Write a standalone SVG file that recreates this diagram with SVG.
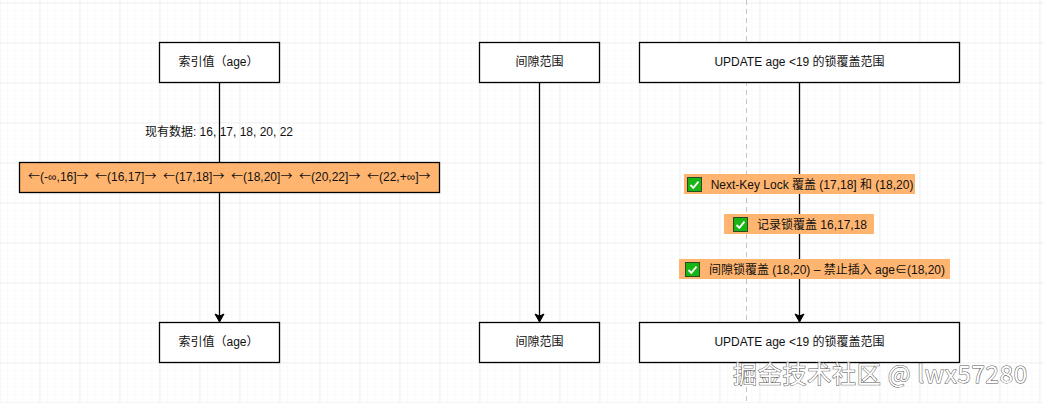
<svg xmlns="http://www.w3.org/2000/svg" width="1043" height="403" viewBox="0 0 1043 403">
<defs>
<pattern id="minor" width="8" height="8" patternUnits="userSpaceOnUse" x="-1" y="2"><path d="M0 0H8M0 0V8" fill="none" stroke="#f8f8f8" stroke-width="1"/></pattern>
<pattern id="major" width="40" height="40" patternUnits="userSpaceOnUse" x="-0.5" y="2.5"><path d="M0 0H40M0 0V40" fill="none" stroke="#e4e4e4" stroke-width="1"/></pattern>
<marker id="arrow" markerWidth="12" markerHeight="12" refX="9" refY="5" orient="auto" markerUnits="userSpaceOnUse"><path d="M1 0.5L9 5L1 9.5L3 5Z" fill="#000" stroke="#000" stroke-width="1"/></marker>
<g id="check"><rect x="0.5" y="0.5" width="14" height="14" fill="#16b512" stroke="#2c4a22"/><path d="M3.5 8L6.3 10.8L11.5 4.6" fill="none" stroke="#fff" stroke-width="1.8"/></g>
</defs>
<style>
text{font-family:"Liberation Sans","Noto Sans CJK SC",sans-serif;font-size:12px;fill:#111;text-anchor:middle}
.r{text-anchor:start}
.a{font-family:"Noto Sans CJK SC",sans-serif}
.box{fill:#fff;stroke:#000;stroke-width:1.3}
.line{fill:none;stroke:#000;stroke-width:1.3}
.tag{fill:#ffb570}
.wm{font-family:"Noto Sans CJK SC","Liberation Sans",sans-serif;font-size:24px;text-anchor:start;letter-spacing:0.75px;fill:#fff;stroke:#555;stroke-width:1;paint-order:stroke}
</style>
<rect width="1043" height="403" fill="#fff"/>
<rect width="1043" height="403" fill="url(#minor)"/>
<rect width="1043" height="403" fill="url(#major)"/>
<line x1="746.5" y1="0" x2="746.5" y2="403" stroke="#c4c4c4" stroke-dasharray="5 4"/>
<g id="connectors">
<line class="line" x1="219.5" y1="82" x2="219.5" y2="322" marker-end="url(#arrow)"/>
<line class="line" x1="539.5" y1="82" x2="539.5" y2="322" marker-end="url(#arrow)"/>
<line class="line" x1="799.5" y1="82" x2="799.5" y2="322" marker-end="url(#arrow)"/>
</g>
<g id="n-age-top"><rect class="box" x="159.5" y="42.5" width="120" height="40"/><text x="218.5" y="66">索引值（age）</text></g>
<g id="n-gap-top"><rect class="box" x="479.5" y="42.5" width="120" height="40"/><text x="539.5" y="66">间隙范围</text></g>
<g id="n-update-top"><rect class="box" x="639.5" y="42.5" width="320" height="40"/><text x="799.5" y="66">UPDATE age &lt;19 的锁覆盖范围</text></g>
<g id="n-data"><text x="219" y="136">现有数据: 16, 17, 18, 20, 22</text></g>
<g id="n-ranges"><rect x="19.5" y="162.5" width="420" height="30" fill="#ffb570" stroke="#000" stroke-width="1.3"/>
<text class="r" x="28" y="181"><tspan class="a">←</tspan>(-∞,16]<tspan class="a">→</tspan></text>
<text class="r" x="95" y="181"><tspan class="a">←</tspan>(16,17]<tspan class="a">→</tspan></text>
<text class="r" x="163" y="181"><tspan class="a">←</tspan>(17,18]<tspan class="a">→</tspan></text>
<text class="r" x="231" y="181"><tspan class="a">←</tspan>(18,20]<tspan class="a">→</tspan></text>
<text class="r" x="299" y="181"><tspan class="a">←</tspan>(20,22]<tspan class="a">→</tspan></text>
<text class="r" x="367" y="181"><tspan class="a">←</tspan>(22,+∞]<tspan class="a">→</tspan></text></g>
<g id="n-lock1"><rect class="tag" x="684" y="174" width="231" height="20"/><use href="#check" x="687" y="177"/><text x="812" y="189">Next-Key Lock 覆盖 (17,18] 和 (18,20)</text></g>
<g id="n-lock2"><rect class="tag" x="724" y="214" width="150" height="20"/><use href="#check" x="733" y="217"/><text x="812" y="229">记录锁覆盖 16,17,18</text></g>
<g id="n-lock3"><rect class="tag" x="679" y="259" width="271" height="20"/><use href="#check" x="685" y="262"/><text x="827" y="274">间隙锁覆盖 (18,20) – 禁止插入 age∈(18,20)</text></g>
<g id="n-age-bot"><rect class="box" x="159.5" y="322.5" width="120" height="40"/><text x="218.5" y="346">索引值（age）</text></g>
<g id="n-gap-bot"><rect class="box" x="479.5" y="322.5" width="120" height="40"/><text x="539.5" y="346">间隙范围</text></g>
<g id="n-update-bot"><rect class="box" x="639.5" y="322.5" width="320" height="40"/><text x="799.5" y="346">UPDATE age &lt;19 的锁覆盖范围</text></g>
<text class="wm" x="733" y="383">掘金技术社区 @ lwx57280</text>
</svg>
